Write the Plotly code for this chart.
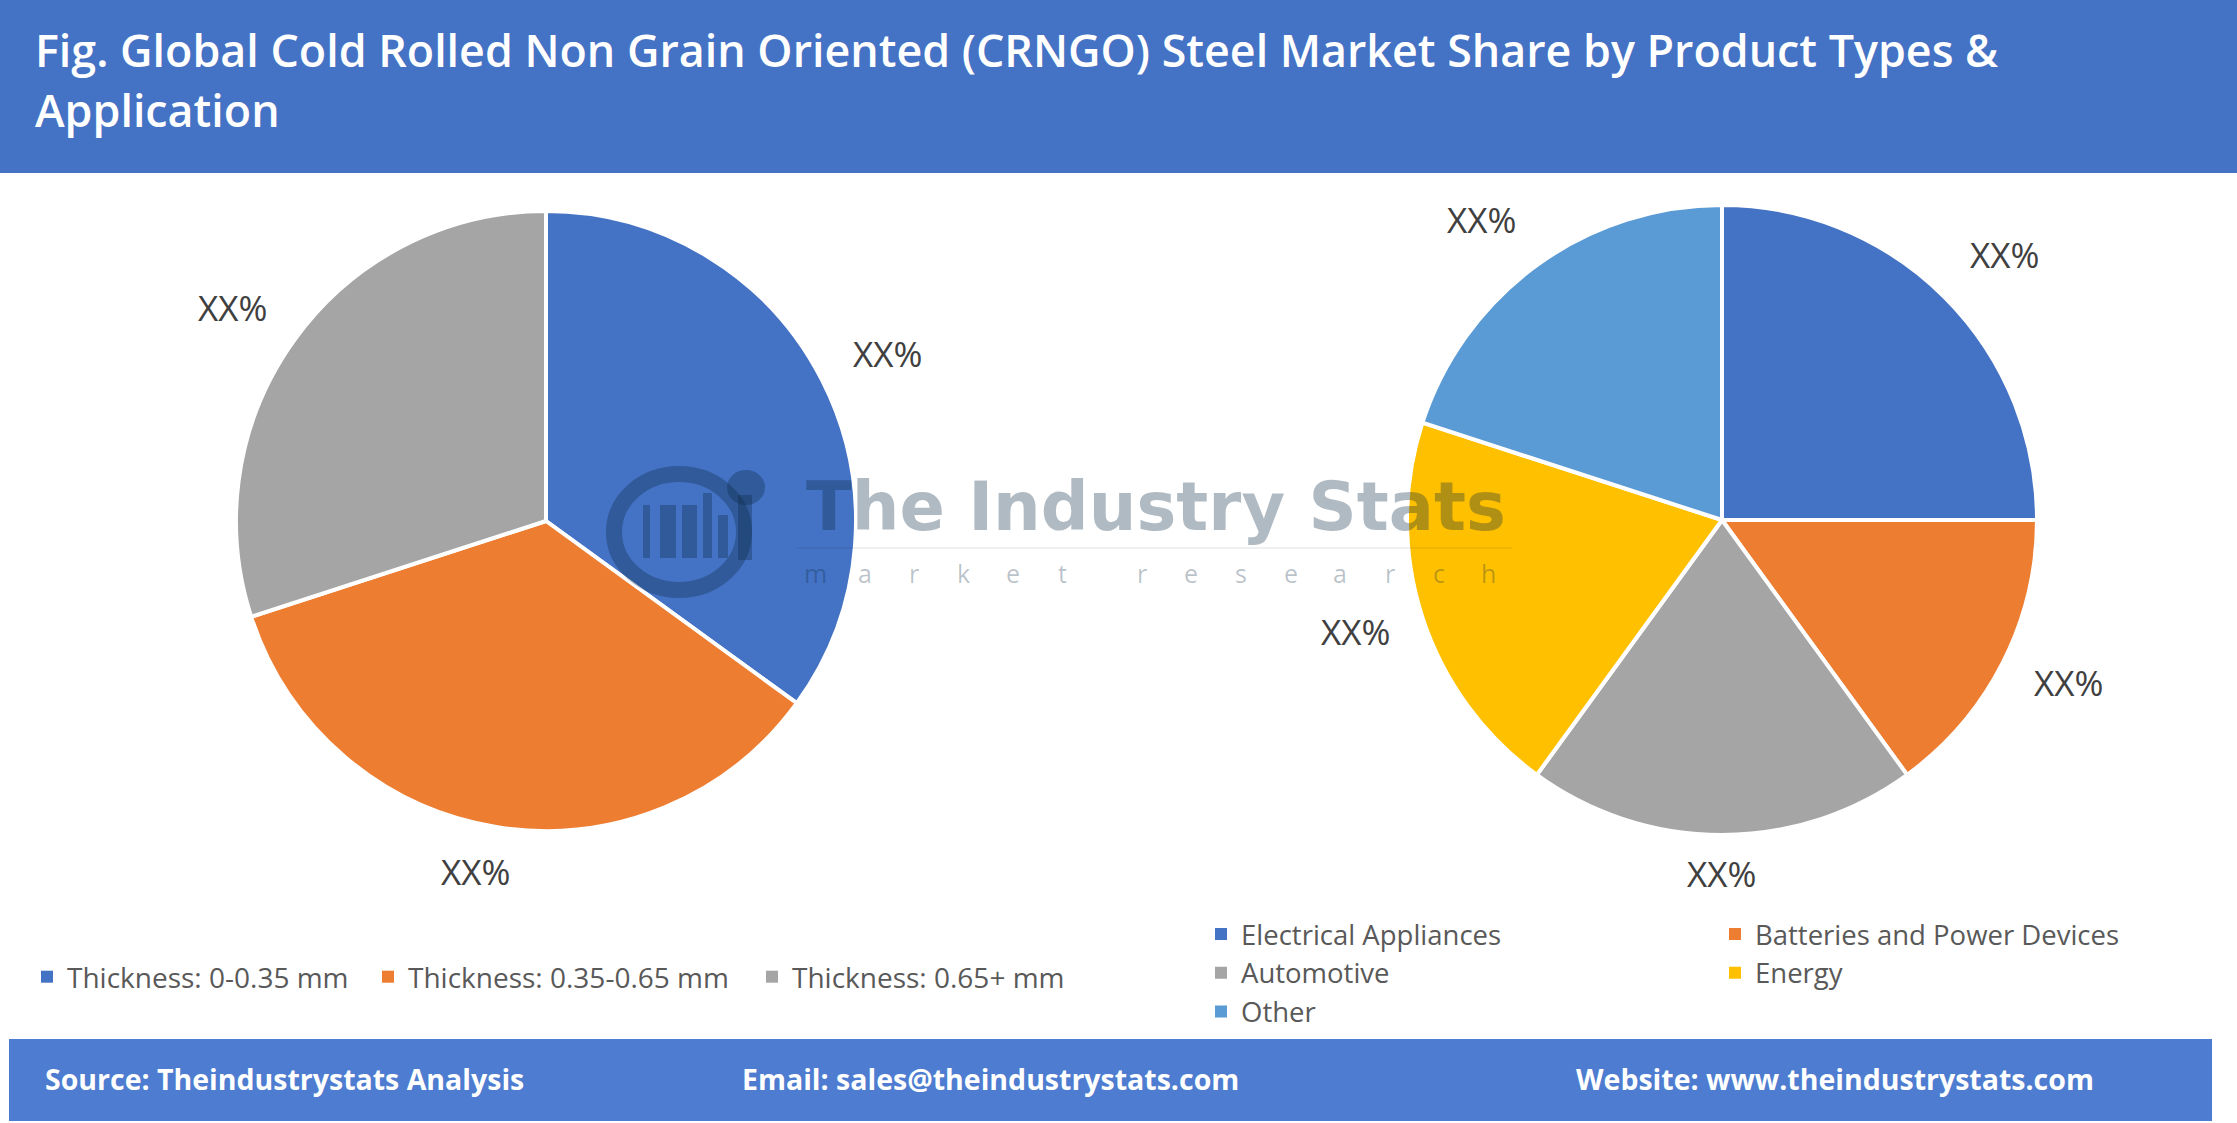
import math
import plotly.graph_objects as go

W, H = 2237, 1123

# ---------------- data ----------------
title_lines = [
    "Fig. Global Cold Rolled Non Grain Oriented (CRNGO) Steel Market Share by Product Types &",
    "Application",
]
type_labels = ["Thickness: 0-0.35 mm", "Thickness: 0.35-0.65 mm", "Thickness: 0.65+ mm"]
type_values = [35, 35, 30]
type_text = ["XX%", "XX%", "XX%"]
type_colors = ["#4472C4", "#ED7D31", "#A5A5A5"]

app_labels = ["Electrical Appliances", "Batteries and Power Devices", "Automotive", "Energy", "Other"]
app_values = [25, 15, 20, 20, 20]
app_text = ["XX%", "XX%", "XX%", "XX%", "XX%"]
app_colors = ["#4472C4", "#ED7D31", "#A5A5A5", "#FFC000", "#5B9BD5"]

footer_texts = [
    "Source: Theindustrystats Analysis",
    "Email: sales@theindustrystats.com",
    "Website: www.theindustrystats.com",
]

# ---------------- helpers ----------------
def px(x):
    return x / W


def py(y):
    return 1 - y / H


def domain(cx, cy, r):
    return dict(x=[px(cx - r), px(cx + r)], y=[py(cy + r), py(cy - r)])


LEFT = (546, 521, 310)
RIGHT = (1722, 520, 315)

fig = go.Figure()

fig.add_trace(go.Pie(
    labels=type_labels, values=type_values, text=type_text,
    marker=dict(colors=type_colors, line=dict(color="white", width=4)),
    textinfo="none", sort=False, direction="clockwise", rotation=0,
    domain=domain(*LEFT), showlegend=False,
    hoverinfo="label+percent",
))
fig.add_trace(go.Pie(
    labels=app_labels, values=app_values, text=app_text,
    marker=dict(colors=app_colors, line=dict(color="white", width=4)),
    textinfo="none", sort=False, direction="clockwise", rotation=0,
    domain=domain(*RIGHT), showlegend=False,
    hoverinfo="label+percent",
))

legend_font_l = dict(family="Open Sans", size=28, color="#595959")
legend_font_r = dict(family="Open Sans", size=27.5, color="#595959")
layout_legends = {}

# left legend: one entry per legend box, in a single row
left_legend_x = [27, 368, 752]
for i, (lab, col) in enumerate(zip(type_labels, type_colors)):
    name = "legend%d" % (i + 4)
    fig.add_trace(go.Scatter(
        x=[None], y=[None], mode="markers", name=lab,
        marker=dict(symbol="square", size=12, color=col),
        legend=name, showlegend=True,
    ))
    layout_legends[name] = dict(orientation="v", x=px(left_legend_x[i]), xanchor="left",
                                y=py(977), yanchor="middle", font=legend_font_l,
                                bgcolor="rgba(0,0,0,0)")

# right legend: two columns
for i, (lab, col) in enumerate(zip(app_labels, app_colors)):
    fig.add_trace(go.Scatter(
        x=[None], y=[None], mode="markers", name=lab,
        marker=dict(symbol="square", size=12, color=col),
        legend="legend2" if i % 2 == 0 else "legend3", showlegend=True,
    ))
layout_legends["legend2"] = dict(orientation="v", x=px(1201), xanchor="left", y=py(909.5),
                                 yanchor="top", font=legend_font_r, bgcolor="rgba(0,0,0,0)",
                                 tracegroupgap=0)
layout_legends["legend3"] = dict(orientation="v", x=px(1715), xanchor="left", y=py(909.5),
                                 yanchor="top", font=legend_font_r, bgcolor="rgba(0,0,0,0)",
                                 tracegroupgap=0)

annotations = []
shapes = []


# outside data labels, placed from the slice angles
def add_labels(values, texts, geom, dy):
    cx, cy, r = geom
    total = float(sum(values))
    cum = 0.0
    for v, t in zip(values, texts):
        mid = (cum + v / 2.0) / total * 2 * math.pi
        cum += v
        sx, sy = math.sin(mid), -math.cos(mid)
        d = r + 33
        fx = math.copysign(min(1.0, 3 * abs(sx)), sx) if abs(sx) > 1e-6 else 0.0
        fy = math.copysign(min(1.0, 3 * abs(sy)), sy) if abs(sy) > 1e-6 else 0.0
        lx = cx + sx * d + fx * 36
        ly = cy + sy * d + fy * 12 + dy
        annotations.append(dict(
            x=px(lx), y=py(ly), xref="paper", yref="paper",
            text=t, showarrow=False, xanchor="center", yanchor="middle",
            font=dict(family="Open Sans", size=35, color="#404040"),
        ))


add_labels(type_values, type_text, LEFT, 0)
add_labels(app_values, app_text, RIGHT, -7)

# header band and title
shapes.append(dict(type="rect", xref="paper", yref="paper", x0=0, x1=1, y0=py(173), y1=1,
                   fillcolor="#4472C4", line=dict(width=0), layer="below"))
for line, yc in zip(title_lines, [49, 110]):
    annotations.append(dict(
        x=px(33), y=py(yc), xref="paper", yref="paper", text=line, showarrow=False,
        xanchor="left", yanchor="middle",
        font=dict(family="Open Sans", size=44.8, color="white", weight=600),
    ))

# footer band
shapes.append(dict(type="rect", xref="paper", yref="paper", x0=px(9), x1=px(2212),
                   y0=py(1121), y1=py(1039), fillcolor="#4D7CD0", line=dict(width=0), layer="below"))
for t, x0 in zip(footer_texts, [43, 740, 1574]):
    annotations.append(dict(
        x=px(x0), y=py(1079), xref="paper", yref="paper", text=t, showarrow=False,
        xanchor="left", yanchor="middle",
        font=dict(family="Open Sans", size=28.5, color="white", weight=700),
    ))

# watermark
wm = "rgba(10,40,65,0.32)"
annotations.append(dict(
    x=px(1156), y=py(507), xref="paper", yref="paper", text="The Industry Stats",
    showarrow=False, xanchor="center", yanchor="middle",
    font=dict(family="DejaVu Sans", size=67, color=wm, weight=700),
))
letters = "market research"
xpos = 815
for ch in letters:
    if ch == " ":
        xpos += 30
        continue
    annotations.append(dict(
        x=px(xpos), y=py(573), xref="paper", yref="paper", text=ch, showarrow=False,
        xanchor="center", yanchor="middle",
        font=dict(family="Open Sans", size=25, color="rgba(10,40,65,0.28)"),
    ))
    xpos += 49.5
shapes.append(dict(type="line", xref="paper", yref="paper", x0=px(797), x1=px(1512),
                   y0=py(548), y1=py(548), line=dict(color="rgba(10,40,65,0.07)", width=2)))
# simple logo mark (gear ring, buildings, wrench)
shapes.append(dict(type="circle", xref="paper", yref="paper", x0=px(614), x1=px(744),
                   y0=py(590), y1=py(474), line=dict(color=wm, width=16)))
for (x0, x1, y0, y1) in [(643, 650, 505, 558), (660, 676, 505, 558), (682, 697, 505, 558),
                         (703, 712, 493, 558), (718, 728, 515, 558)]:
    shapes.append(dict(type="rect", xref="paper", yref="paper", x0=px(x0), x1=px(x1),
                       y0=py(y1), y1=py(y0), fillcolor=wm, line=dict(width=0)))
shapes.append(dict(type="rect", xref="paper", yref="paper", x0=px(738), x1=px(752),
                   y0=py(560), y1=py(495), fillcolor=wm, line=dict(width=0)))
shapes.append(dict(type="circle", xref="paper", yref="paper", x0=px(727), x1=px(765),
                   y0=py(505), y1=py(470), fillcolor=wm, line=dict(width=0)))

fig.update_layout(
    width=W, height=H,
    margin=dict(l=0, r=0, t=0, b=0),
    paper_bgcolor="white", plot_bgcolor="white",
    xaxis=dict(visible=False), yaxis=dict(visible=False),
    annotations=annotations, shapes=shapes,
    hovermode=False,
    **layout_legends,
)

fig.write_html("out.html")
